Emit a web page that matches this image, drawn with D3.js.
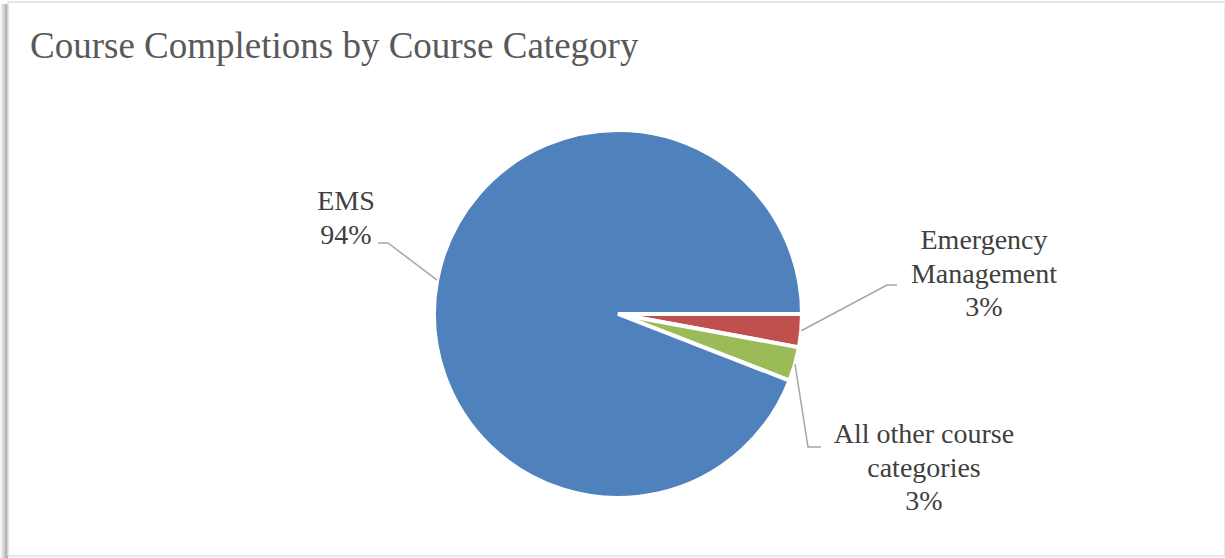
<!DOCTYPE html>
<html>
<head>
<meta charset="utf-8">
<style>
  body { margin: 0; background: #fff; }
  svg { display: block; font-family: "Liberation Serif", "Times New Roman", serif; }
</style>
</head>
<body>
<svg width="1225" height="558"></svg>
<script src="https://d3js.org/d3.v7.min.js"></script>
<script>
// slice values (percent of completions), clockwise from 3 o'clock
var categories = ["Emergency Management", "All other course categories", "EMS"];
var values = [2.9, 3.0, 94.1];
var colors = ["#c0504d", "#9bbb59", "#4f81bd"];
// label lines as shown in the chart
var labelLines = [
  ["Emergency", "Management"],
  ["All other course", "categories"],
  ["EMS"]
];

var svg = d3.select("svg");
var W = 1225, H = 558;

// frame with soft shadow on the left
var defs = svg.append("defs");
var grad = defs.append("linearGradient").attr("id", "shadow");
grad.append("stop").attr("offset", "0%").attr("stop-color", "#fff");
grad.append("stop").attr("offset", "100%").attr("stop-color", "#a0a0a0");
svg.append("rect").attr("x", 0).attr("y", 4).attr("width", 8).attr("height", H - 4)
  .attr("fill", "url(#shadow)");
svg.append("rect").attr("x", 8).attr("y", 2).attr("width", W - 8).attr("height", H - 4)
  .attr("fill", "#fff").attr("stroke", "#e0e0e0").attr("stroke-width", 1.5);

svg.append("text")
  .attr("x", 30).attr("y", 58)
  .attr("font-size", 37)
  .attr("fill", "#595959")
  .text("Course Completions by Course Category");

var cx = 618, cy = 314, r = 184;
var g = svg.append("g").attr("transform", "translate(" + cx + "," + cy + ")");

var pie = d3.pie().sort(null).value(function(d){ return d; })
  .startAngle(Math.PI / 2).endAngle(Math.PI / 2 + 2 * Math.PI);
var arcs = pie(values);
var arc = d3.arc().innerRadius(0).outerRadius(r);

g.selectAll("path.slice").data(arcs).enter().append("path")
  .attr("class", "slice")
  .attr("d", arc)
  .attr("fill", function(d, i){ return colors[i]; })
  .attr("stroke", "#fff")
  .attr("stroke-width", 4)
  .attr("stroke-linejoin", "miter");

// label placement: centre x, first baseline, leader polyline end points
var labelPos = [
  { x: 984, y: 249, leader: [[897, 285], [887, 285]] },
  { x: 924, y: 443, leader: [[821, 447], [808, 447]] },
  { x: 346, y: 210, leader: [[378, 243], [388, 243]] }
];

var fmt = d3.format(".0%");
var total = d3.sum(values);

arcs.forEach(function(a, i){
  var p = labelPos[i];
  var mid = (a.startAngle + a.endAngle) / 2;
  var edge = [cx + r * Math.sin(mid), cy - r * Math.cos(mid)];
  var pts = p.leader.concat([edge]);
  svg.append("path")
    .attr("d", d3.line()(pts))
    .attr("fill", "none")
    .attr("stroke", "#a6a6a6")
    .attr("stroke-width", 1.5);

  var lines = labelLines[i].concat([fmt(values[i] / total)]);
  var t = svg.append("text")
    .attr("text-anchor", "middle")
    .attr("font-size", 28)
    .attr("fill", "#404040");
  lines.forEach(function(s, j){
    t.append("tspan").attr("x", p.x).attr("y", p.y + j * 33.5).text(s);
  });
});
</script>
</body>
</html>
